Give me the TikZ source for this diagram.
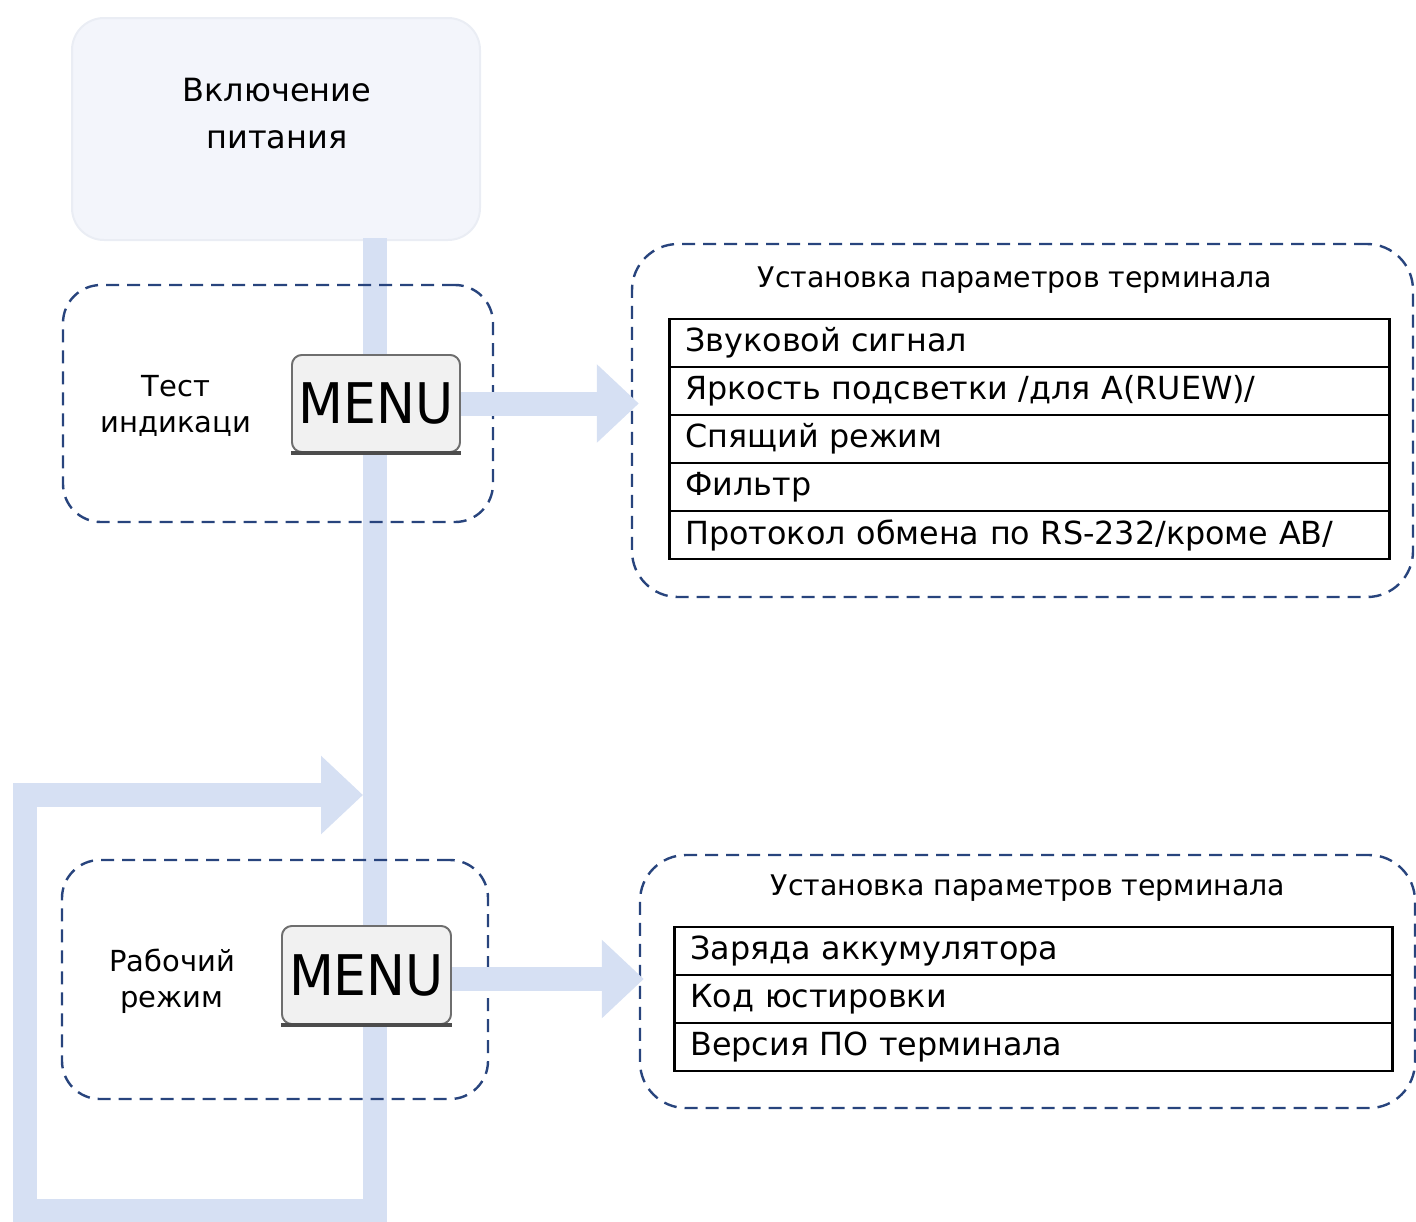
\documentclass[tikz,border=0pt]{standalone}
\usepackage{fontspec}
\usepackage{graphicx}
\setmainfont{DejaVu Sans}
\usetikzlibrary{arrows.meta}
\definecolor{flow}{RGB}{214,224,243}
\definecolor{dashblue}{RGB}{40,68,125}
\definecolor{topfill}{RGB}{243,245,251}
\definecolor{topedge}{RGB}{234,237,244}
\definecolor{btnfill}{RGB}{241,241,241}
\definecolor{btnedge}{RGB}{110,110,110}
\tikzset{
  flowline/.style={draw=flow, line width=12pt, line join=miter},
  flowarrow/.style={flowline, -{Triangle[width=38pt,length=21pt]}},
  topbox/.style={rectangle, rounded corners=16pt, fill=topfill, draw=topedge, line width=1pt, minimum width=204pt, minimum height=111pt},
  groupbox/.style={rectangle, rounded corners=19pt, draw=dashblue, line width=1.2pt, dash pattern=on 6.5pt off 4pt},
  menubtn/.style={rectangle, rounded corners=5pt, fill=btnfill, draw=btnedge, line width=0.9pt, inner sep=0pt, font=\fontsize{28}{28}\selectfont},
  labeltext/.style={align=center, font=\fontsize{14.5}{18}\selectfont},
  titletext/.style={font=\fontsize{14.2}{18}\selectfont},
  rowbox/.style={rectangle, draw=black, line width=1.4pt, anchor=west, inner xsep=8pt, inner ysep=0pt, minimum height=24pt, align=left, font=\fontsize{15.9}{18}\selectfont},
}
\begin{document}
\begin{tikzpicture}[x=0.5pt,y=-0.5pt]
\path[use as bounding box] (0,0) rectangle (1416,1221);

% top box
\node[topbox] (power) at (276,129) {};
\node[align=center, font=\fontsize{16}{23.5}\selectfont] (powertext) at (277,114) {Включение\\питания};

% flow trunk and loop
\coordinate (trunktop) at (375,238);
\coordinate (loopbr) at (375,1211);
\coordinate (loopbl) at (25,1211);
\coordinate (looptl) at (25,795);
\coordinate (loopend) at (363,795);
\draw[flowarrow] (trunktop) -- (loopbr) -- (loopbl) -- (looptl) -- (loopend);

% MENU buttons (positions)
\node[menubtn, minimum width=84pt, minimum height=48.5pt] (menu1) at (376,403.5) {};
\node[menubtn, minimum width=84.5pt, minimum height=49pt] (menu2) at (366.5,975) {};

% group boxes
\node[groupbox, minimum width=215pt, minimum height=118.5pt] (grp1) at (278,403.5) {};
\node[groupbox, rounded corners=23pt, minimum width=390.5pt, minimum height=176.5pt] (set1) at (1022.5,420.5) {};
\node[groupbox, minimum width=213pt, minimum height=119.5pt] (grp2) at (275,979.5) {};
\node[groupbox, rounded corners=23pt, minimum width=387.5pt, minimum height=126.5pt] (set2) at (1027.5,981.5) {};

% horizontal arrows
\draw[flowarrow] (menu1.east) -- ([xshift=4pt]menu1.east -| set1.west);
\draw[flowarrow] ([yshift=-2pt]menu2.east) -- ([xshift=2.5pt,yshift=-2pt]menu2.east -| set2.west);

% buttons over arrows
\node[menubtn, minimum width=84pt, minimum height=48.5pt] at (menu1) {\scalebox{0.93}[1]{MENU}};
\draw[line width=1.6pt, draw=black!70] (menu1.south west) -- (menu1.south east);
\node[menubtn, minimum width=84.5pt, minimum height=49pt] at (menu2) {\scalebox{0.93}[1]{MENU}};
\draw[line width=1.6pt, draw=black!70] (menu2.south west) -- (menu2.south east);

% labels
\node[labeltext] (testlbl) at (176,406) {Тест\\индикаци};
\node[labeltext] (worklbl) at (172,981) {Рабочий\\режим};

% table 1
\node[titletext] (title1) at (1015,280) {Установка параметров терминала};
\foreach \i/\t in {1/{Звуковой сигнал},2/{Яркость подсветки /для A(RUEW)/},3/{Спящий режим},4/{Фильтр},5/{Протокол обмена по RS-232/кроме AB/}} {
  \node[rowbox, text width=344pt] (ra\i) at (668,{343+48*(\i-1)}) {\t};
}

% table 2
\node[titletext] (title2) at (1028,888) {Установка параметров терминала};
\foreach \i/\t in {1/{Заряда аккумулятора},2/{Код юстировки},3/{Версия ПО терминала}} {
  \node[rowbox, text width=343pt] (rb\i) at (673,{951+48*(\i-1)}) {\t};
}
\end{tikzpicture}
\end{document}
